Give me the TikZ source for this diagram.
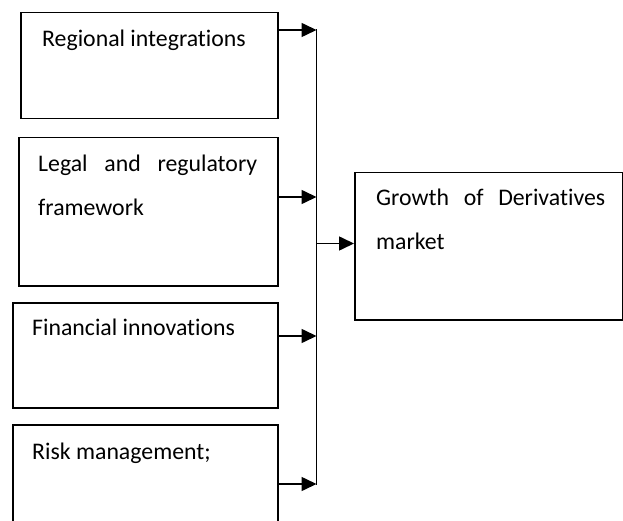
\documentclass[tikz,border=0pt]{standalone}
\usepackage{fontspec}
\setmainfont{Carlito}[Ligatures=NoCommon]
\usetikzlibrary{arrows.meta}
\tikzset{
  box/.style={draw=black, line width=1.5pt, rectangle, anchor=north west, inner sep=0pt},
  lbl/.style={inner sep=0pt, anchor=base west, align=left, font=\fontsize{23.8pt}{43.8pt}\selectfont},
  arr/.style={line width=1.6pt, -{Triangle[length=15pt,width=14pt]}},
  bus/.style={line width=1.6pt}
}
\begin{document}
\begin{tikzpicture}[x=1pt,y=-1pt]
\useasboundingbox (0,0) rectangle (623,521);
% boxes
\node[box, minimum width=257pt, minimum height=106pt] (b1) at (20,12) {};
\node[box, minimum width=259pt, minimum height=148pt] (b2) at (18,137) {};
\node[box, minimum width=265pt, minimum height=105pt] (b3) at (12,302) {};
\node[box, minimum width=265pt, minimum height=125pt] (b4) at (12,424) {};
\node[box, minimum width=268pt, minimum height=147pt] (r) at (354,172) {};
% labels (base anchor = baseline of the last line)
\node[lbl] (t1) at (42,47) {Regional integrations};
\node[lbl] (t2) at (38,215) {\makebox[219pt][s]{Legal and regulatory}\\framework};
\node[lbl] (t3) at (32,335) {Financial innovations};
\node[lbl] (t4) at (32,459) {Risk management;};
\node[lbl] (tr) at (376,249) {\makebox[229pt][s]{Growth of Derivatives}\\market};
% bus
\coordinate (j1) at (316.5,30);
\coordinate (j2) at (316.5,197);
\coordinate (j3) at (316.5,336);
\coordinate (j4) at (316.5,484);
\coordinate (jr) at (316.5,243.5);
\draw[bus] ([yshift=0.8pt]j1) -- ([yshift=-0.8pt]j4);
% arrows
\draw[arr] (b1.east |- j1) -- (j1);
\draw[arr] (b2.east |- j2) -- (j2);
\draw[arr] (b3.east |- j3) -- (j3);
\draw[arr] (b4.east |- j4) -- (j4);
\draw[arr] (jr) -- (r.west |- jr);
\end{tikzpicture}
\end{document}
